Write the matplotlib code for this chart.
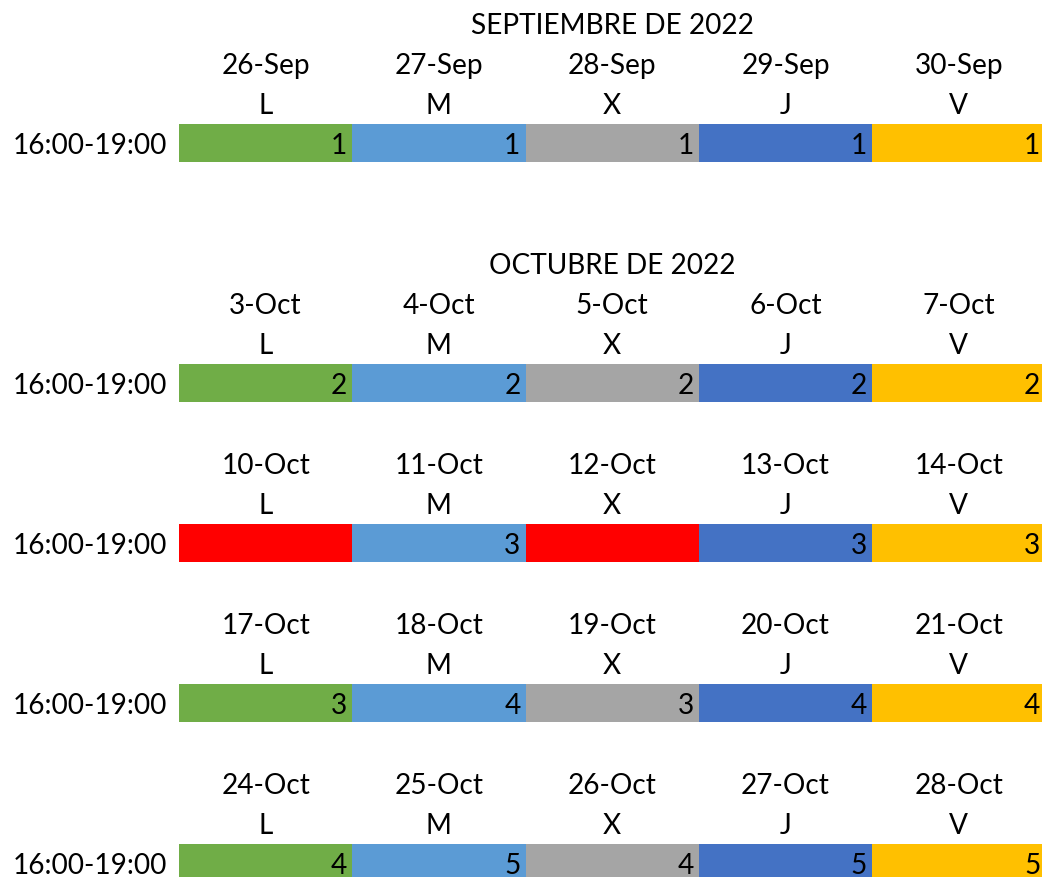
import matplotlib.pyplot as plt
from matplotlib.patches import Rectangle

plt.rcParams['font.family'] = ['Lato', 'DejaVu Sans']

weekdays = ['L', 'M', 'X', 'J', 'V']
day_colors = ['#70AD47', '#5B9BD5', '#A5A5A5', '#4472C4', '#FFC000']
closed_color = '#FF0000'
slot = '16:00-19:00'

# one entry per week: (month title or None, dates, values; None = closed day)
titles = ['SEPTIEMBRE DE 2022', 'OCTUBRE DE 2022', None, None, None]
dates = [
    ['26-Sep', '27-Sep', '28-Sep', '29-Sep', '30-Sep'],
    ['3-Oct', '4-Oct', '5-Oct', '6-Oct', '7-Oct'],
    ['10-Oct', '11-Oct', '12-Oct', '13-Oct', '14-Oct'],
    ['17-Oct', '18-Oct', '19-Oct', '20-Oct', '21-Oct'],
    ['24-Oct', '25-Oct', '26-Oct', '27-Oct', '28-Oct'],
]
values = [
    [1, 1, 1, 1, 1],
    [2, 2, 2, 2, 2],
    [None, 3, None, 3, 3],
    [3, 4, 3, 4, 4],
    [4, 5, 4, 5, 5],
]
# spreadsheet row of the date line for each week
date_rows = [1, 7, 11, 15, 19]

fig = plt.figure(figsize=(10.42, 8.78), dpi=100)
ax = fig.add_axes([0, 0, 1, 1])
ax.set_xlim(-179 / 173.3, 863 / 173.3)
ax.set_ylim(874 / 40, -4 / 40)
ax.axis('off')

fs = 20.2
dy = 0.54
for title, week, vals, r in zip(titles, dates, values, date_rows):
    if title:
        ax.text(2.5, r - 1 + dy, title, ha='center', va='center', fontsize=fs)
    for i in range(5):
        ax.text(i + 0.5, r + dy, week[i], ha='center', va='center', fontsize=fs)
        ax.text(i + 0.5, r + 1 + dy, weekdays[i], ha='center', va='center', fontsize=fs)
        v = vals[i]
        color = closed_color if v is None else day_colors[i]
        ax.add_patch(Rectangle((i, r + 2.02), 1, 0.96, facecolor=color,
                               edgecolor='none'))
        if v is not None:
            ax.text(i + 0.97, r + 2 + dy, str(v), ha='right', va='center',
                    fontsize=fs)
    ax.text(-179 / 173.3 / 2, r + 2 + dy, slot, ha='center', va='center',
            fontsize=fs)

fig.savefig('out.png', dpi=100)
